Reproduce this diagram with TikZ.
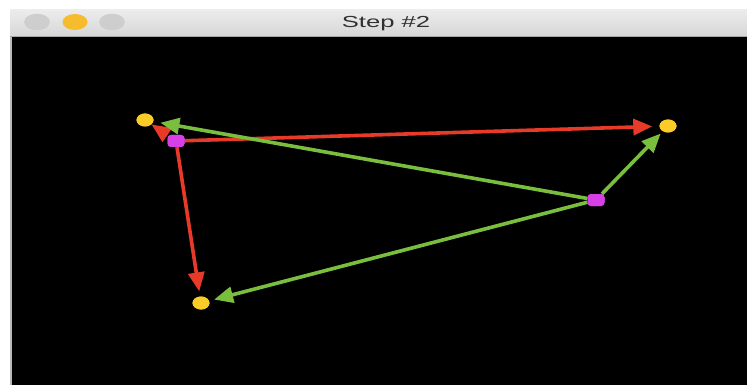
\documentclass[tikz,border=0pt]{standalone}
\usepackage{fontspec}
\setmainfont{Liberation Sans}
\usetikzlibrary{arrows.meta,shapes.geometric}
\definecolor{redc}{RGB}{232,58,40}
\definecolor{greenc}{RGB}{122,190,62}
\definecolor{yellowc}{RGB}{250,204,40}
\definecolor{magentac}{RGB}{214,64,230}
\definecolor{barTop}{RGB}{236,236,236}
\definecolor{barBot}{RGB}{214,214,214}
\definecolor{btngray}{RGB}{206,206,206}
\definecolor{btnyellow}{RGB}{246,188,46}
\definecolor{titletext}{RGB}{48,48,48}
\tikzset{
  ydot/.style={ellipse, fill=yellowc, minimum width=17pt, minimum height=13pt, inner sep=0pt},
  mdot/.style={rectangle, rounded corners=3.5pt, fill=magentac, minimum width=17pt, minimum height=12pt, inner sep=0pt},
  vec/.style={line width=3.6pt, -{Triangle[length=19pt,width=16pt]}},
  redvec/.style={vec, draw=redc},
  greenvec/.style={vec, draw=greenc},
  btn/.style={ellipse, minimum width=25pt, minimum height=16pt, inner sep=0pt},
}
\begin{document}
\begin{tikzpicture}[x=1pt,y=-1pt]
\useasboundingbox (0,0) rectangle (747,385);
\fill[white] (0,0) rectangle (747,385);
% window
\shade[top color=barTop, bottom color=barBot] (10,10) rectangle (747,37);
\draw[gray!70, line width=0.8pt] (10,36.6) -- (747,36.6);
\fill[black] (12,37) rectangle (747,385);
\fill[gray!55] (10,37) rectangle (12,385);
\node[btn, fill=btngray, draw=gray!40] (b1) at (37,22) {};
\node[btn, fill=btnyellow] (b2) at (75,22) {};
\node[btn, fill=btngray, draw=gray!40] (b3) at (112,22) {};
\node[text=titletext, font=\fontsize{16}{17}\selectfont] (title) at (386,24) {\scalebox{1.6}[1]{Step \#2}};
% points
\node[ydot] (y1) at (145,120) {};
\node[mdot] (m1) at (176,141) {};
\node[ydot] (y2) at (668,126) {};
\node[mdot] (m2) at (596,200) {};
\node[ydot] (y3) at (201,303) {};
% red vectors
\draw[redvec, shorten >=7pt] (m1) -- (y2);
\draw[redvec, shorten >=5pt] (m1) -- (y3);
\draw[redvec, shorten >=0pt] (m1) -- (y1);
% green vectors
\draw[greenvec, shorten >=7pt] (m2) -- (y1);
\draw[greenvec, shorten >=3pt] (m2) -- (y2);
\draw[greenvec, shorten >=5pt] (m2) -- (y3);
% redraw dots on top
\node[ydot] (y1top) at (y1) {};
\node[mdot] (m1top) at (m1) {};
\node[ydot] (y2top) at (y2) {};
\node[mdot] (m2top) at (m2) {};
\node[ydot] (y3top) at (y3) {};
\end{tikzpicture}
\end{document}
